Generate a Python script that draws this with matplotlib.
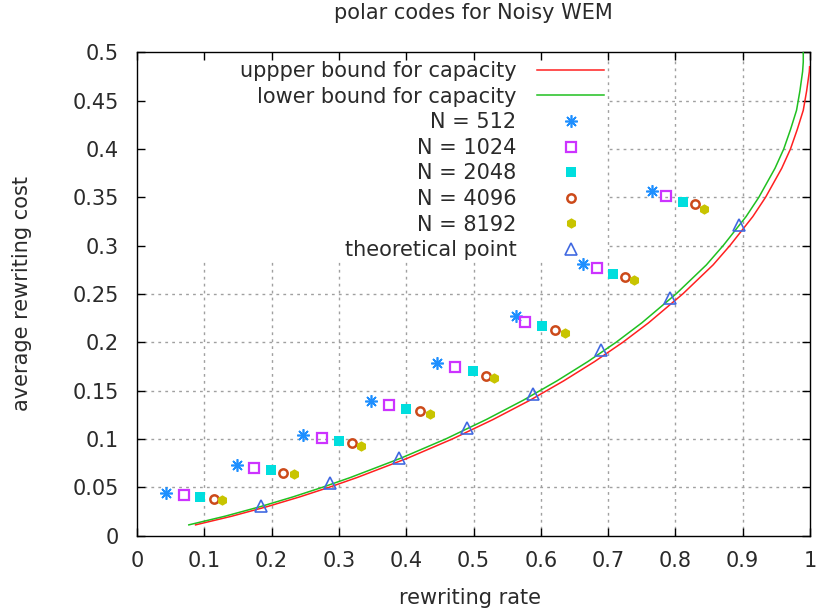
import matplotlib
matplotlib.use("Agg")
import matplotlib.pyplot as plt
from matplotlib.patches import Rectangle
import numpy as np

plt.rcParams['font.family'] = ['DejaVu Sans']

# ---- data ----
cost_upper = [0.011, 0.02, 0.03, 0.04, 0.05, 0.06, 0.08, 0.10, 0.12, 0.14, 0.16, 0.18, 0.20,
              0.22, 0.25, 0.28, 0.30, 0.33, 0.35, 0.38, 0.40, 0.42, 0.44, 0.46, 0.48, 0.485]
rate_upper = [0.087, 0.141, 0.194, 0.242, 0.286, 0.327, 0.402, 0.469, 0.529, 0.584, 0.634, 0.680, 0.722,
              0.760, 0.811, 0.856, 0.881, 0.915, 0.934, 0.958, 0.971, 0.981, 0.990, 0.995, 0.999, 0.9994]
cost_lower = [0.011, 0.02, 0.03, 0.04, 0.05, 0.06, 0.08, 0.10, 0.12, 0.14, 0.16, 0.18, 0.20,
              0.22, 0.25, 0.28, 0.30, 0.33, 0.35, 0.38, 0.40, 0.42, 0.44, 0.46, 0.48, 0.49, 0.50]
rate_lower = [0.077, 0.131, 0.184, 0.232, 0.276, 0.317, 0.392, 0.459, 0.519, 0.574, 0.624, 0.670, 0.712,
              0.750, 0.801, 0.846, 0.871, 0.905, 0.924, 0.948, 0.961, 0.971, 0.980, 0.985, 0.989, 0.990, 0.990]

x512 = [0.043, 0.148, 0.247, 0.348, 0.446, 0.563, 0.662, 0.765]
y512 = [0.044, 0.073, 0.1045, 0.139, 0.178, 0.227, 0.281, 0.356]
x1024 = [0.0705, 0.174, 0.275, 0.374, 0.473, 0.576, 0.684, 0.786]
y1024 = [0.0414, 0.070, 0.1007, 0.135, 0.174, 0.221, 0.2766, 0.351]
x2048 = [0.094, 0.199, 0.300, 0.400, 0.499, 0.602, 0.707, 0.811]
y2048 = [0.040, 0.0676, 0.098, 0.131, 0.170, 0.217, 0.271, 0.345]
x4096 = [0.114, 0.217, 0.319, 0.420, 0.518, 0.621, 0.725, 0.829]
y4096 = [0.038, 0.065, 0.0955, 0.129, 0.1655, 0.213, 0.268, 0.343]
x8192 = [0.127, 0.234, 0.333, 0.435, 0.531, 0.636, 0.739, 0.842]
y8192 = [0.037, 0.064, 0.0924, 0.126, 0.163, 0.210, 0.264, 0.338]
x_theory = [0.184, 0.287, 0.389, 0.490, 0.588, 0.690, 0.792, 0.894]
y_theory = [0.031, 0.054, 0.080, 0.111, 0.146, 0.192, 0.2455, 0.321]

xticks = [0, 0.1, 0.2, 0.3, 0.4, 0.5, 0.6, 0.7, 0.8, 0.9, 1]
yticks = [0, 0.05, 0.1, 0.15, 0.2, 0.25, 0.3, 0.35, 0.4, 0.45, 0.5]
xtick_labels = ["0", "0.1", "0.2", "0.3", "0.4", "0.5", "0.6", "0.7", "0.8", "0.9", "1"]
ytick_labels = ["0", "0.05", "0.1", "0.15", "0.2", "0.25", "0.3", "0.35", "0.4", "0.45", "0.5"]

labels = ["uppper bound for capacity", "lower bound for capacity", "N = 512", "N = 1024",
          "N = 2048", "N = 4096", "N = 8192", "theoretical point"]

FS = 15
TXT = '#2a2a2a'

fig = plt.figure(figsize=(8.18, 6.13), dpi=100)
ax = fig.add_axes([137 / 818, 1 - 535.5 / 613, 673 / 818, 483.2 / 613])
ax.set_xlim(0, 1)
ax.set_ylim(0, 0.5)

# grid (dotted) behind everything
for xv in xticks[1:-1]:
    ax.axvline(xv, color='#a0a0a0', lw=1.0, dashes=(2, 3), zorder=1)
for yv in yticks[1:-1]:
    ax.axhline(yv, color='#a0a0a0', lw=1.0, dashes=(2, 3), zorder=1)
# opaque key area (gnuplot hides grid behind the key)
ax.add_patch(Rectangle((0, 0.285), 0.697, 0.215, transform=ax.transData,
                       facecolor='white', edgecolor='none', zorder=1.2))

l_up, = ax.plot(rate_upper, cost_upper, color='#ff2020', lw=1.1, zorder=3)
l_lo, = ax.plot(rate_lower, cost_lower, color='#20c020', lw=1.1, zorder=3)
s512, = ax.plot(x512, y512, ls='none', marker=(8, 2, 0), ms=9, mew=1.2, color='#1e8fff', zorder=4)
s1024, = ax.plot(x1024, y1024, ls='none', marker='s', ms=7, mew=1.6, mfc='none', mec='#cc33ff', zorder=4)
s2048, = ax.plot(x2048, y2048, ls='none', marker='s', ms=7.5, mew=0, color='#00dede', zorder=4)
s4096, = ax.plot(x4096, y4096, ls='none', marker='o', ms=6, mew=1.8, mfc='none', mec='#cc4a1a', zorder=4)
s8192, = ax.plot(x8192, y8192, ls='none', marker='h', ms=7.5, mew=0, color='#c8c400', zorder=4)
sth, = ax.plot(x_theory, y_theory, ls='none', marker='^', ms=9, mew=1.2, mfc='none', mec='#4169e1', zorder=4)

ax.set_axisbelow(False)
ax.set_xticks(xticks)
ax.set_xticklabels(xtick_labels)
ax.set_yticks(yticks)
ax.set_yticklabels(ytick_labels)
ax.tick_params(axis='both', direction='in', length=5.5, width=1, top=True, right=True,
               labelsize=FS, labelcolor=TXT, color='black')
ax.tick_params(axis='x', pad=11)
ax.tick_params(axis='y', pad=13)
for sp in ax.spines.values():
    sp.set_linewidth(1.0)
    sp.set_color('black')

ax.set_xlabel("rewriting rate", fontsize=FS, color=TXT, va='center')
ax.xaxis.set_label_coords(0.495, -0.129)
ax.set_ylabel("average rewriting cost", fontsize=FS, color=TXT, va='center')
ax.yaxis.set_label_coords(-0.171, 0.5)
fig.text(473.5 / 818, 1 - 13 / 613, "polar codes for Noisy WEM", fontsize=FS, color=TXT,
         ha='center', va='center')

leg = ax.legend([l_up, l_lo, s512, s1024, s2048, s4096, s8192, sth], labels,
                loc='upper right', bbox_to_anchor=(0.694, 0.982), markerfirst=False,
                frameon=False, fontsize=FS, handlelength=3.2, handletextpad=1.0,
                labelspacing=0.27, borderpad=0, borderaxespad=0)
for t in leg.get_texts():
    t.set_color(TXT)
leg.set_zorder(5)

fig.savefig("out.png", dpi=100)
